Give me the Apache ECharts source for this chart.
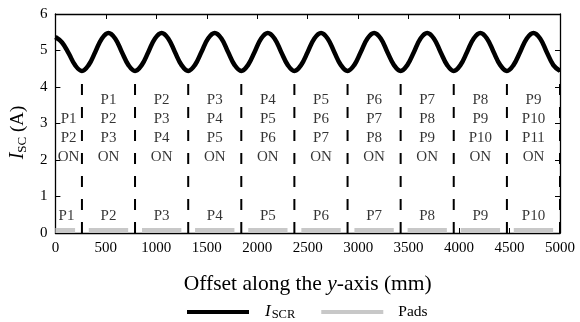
<!DOCTYPE html>
<html><head><meta charset="utf-8">
<script src="https://cdn.jsdelivr.net/npm/echarts@6/dist/echarts.min.js"></script>
<style>html,body{margin:0;padding:0;background:#fff}#c{width:580px;height:322px}</style>
</head><body><div id="c"></div>
<script>
// Offset along the y-axis (mm)
var offsetMm = [0, 66, 132, 197, 263, 329, 395, 461, 526, 592, 658, 724, 789, 855, 921, 987,
  1053, 1118, 1184, 1250, 1316, 1382, 1447, 1513, 1579, 1645, 1711, 1776, 1842, 1908, 1974, 2039,
  2105, 2171, 2237, 2303, 2368, 2434, 2500, 2566, 2632, 2697, 2763, 2829, 2895, 2961, 3026, 3092,
  3158, 3224, 3289, 3355, 3421, 3487, 3553, 3618, 3684, 3750, 3816, 3882, 3947, 4013, 4079, 4145,
  4211, 4276, 4342, 4408, 4474, 4539, 4605, 4671, 4737, 4803, 4868, 4934, 5000];
// I_SCR (A)
var iscr = [5.37, 5.22, 4.92, 4.59, 4.44, 4.60, 4.96, 5.33,
  5.48, 5.33, 4.96, 4.60, 4.44, 4.60, 4.96, 5.33,
  5.48, 5.33, 4.96, 4.60, 4.44, 4.60, 4.96, 5.33,
  5.48, 5.33, 4.96, 4.60, 4.44, 4.60, 4.96, 5.33,
  5.48, 5.33, 4.96, 4.60, 4.44, 4.60, 4.96, 5.33,
  5.48, 5.33, 4.96, 4.60, 4.44, 4.60, 4.96, 5.33,
  5.48, 5.33, 4.96, 4.60, 4.44, 4.60, 4.96, 5.33,
  5.48, 5.33, 4.96, 4.60, 4.44, 4.60, 4.96, 5.33,
  5.48, 5.33, 4.96, 4.60, 4.44, 4.60, 4.96, 5.33,
  5.48, 5.33, 4.96, 4.60, 4.44];
// pad extents (mm)
var padStart = [0, 331, 858, 1384, 1911, 2437, 2963, 3490, 4016, 4542];
var padEnd   = [195, 721, 1248, 1774, 2300, 2827, 3353, 3879, 4406, 4932];
var padNames = ['P1','P2','P3','P4','P5','P6','P7','P8','P9','P10'];
var padLabelX = [110, 526, 1053, 1579, 2105, 2632, 3158, 3684, 4211, 4737];
var padLevel = 0.07;
var padLabelY = 0.47;
// switching boundaries (mm)
var boundaryX = [263, 789, 1316, 1842, 2368, 2895, 3421, 3947, 4474, 5000];
var boundaryTop = 4.44;
// active pad groups
var groupX = [131, 526, 1053, 1579, 2105, 2632, 3158, 3684, 4211, 4737];
var groupText = ['P1\nP2\nON', 'P1\nP2\nP3\nON', 'P2\nP3\nP4\nON', 'P3\nP4\nP5\nON', 'P4\nP5\nP6\nON',
  'P5\nP6\nP7\nON', 'P6\nP7\nP8\nON', 'P7\nP8\nP9\nON', 'P8\nP9\nP10\nON', 'P9\nP10\nP11\nON'];
var groupBottomY = 1.81;
var xTicks = [0, 500, 1000, 1500, 2000, 2500, 3000, 3500, 4000, 4500, 5000];
var yTicks = [0, 1, 2, 3, 4, 5, 6];

var SERIF = '"Liberation Serif","DejaVu Serif",serif';
var chart = echarts.init(document.getElementById('c'), null, {renderer: 'canvas'});
var series = [];
series.push({
  name: 'ISCR', type: 'line', xAxisIndex: 0, yAxisIndex: 0,
  data: offsetMm.map(function (x, i) { return [x, iscr[i]]; }),
  smooth: 0.4, showSymbol: false, symbol: 'none',
  lineStyle: {color: '#000', width: 4.5}, itemStyle: {color: '#000'}, z: 5, silent: true
});
padStart.forEach(function (s, i) {
  series.push({
    name: 'Pads', type: 'line', data: [[s, padLevel], [padEnd[i], padLevel]],
    showSymbol: false, symbol: 'none', lineStyle: {color: '#c8c8c8', width: 5}, itemStyle: {color: '#c8c8c8'},
    z: 3, silent: true
  });
});
boundaryX.forEach(function (x) {
  series.push({
    name: 'boundary', type: 'line', data: [[x, 0], [x, boundaryTop]],
    showSymbol: false, symbol: 'none', lineStyle: {color: '#000', width: 2, type: [11, 12]},
    z: 4, silent: true
  });
});
series.push({
  name: 'groups', type: 'scatter', symbolSize: 0, silent: true,
  data: groupX.map(function (x, i) { return [x, groupBottomY, groupText[i]]; }),
  label: {show: true, position: 'inside', verticalAlign: 'bottom', align: 'center',
    formatter: function (p) { return p.data[2]; },
    fontFamily: SERIF, fontSize: 15, lineHeight: 19, color: '#000'}
});
series.push({
  name: 'padLabels', type: 'scatter', symbolSize: 0, silent: true,
  data: padLabelX.map(function (x, i) { return [x, padLabelY, padNames[i]]; }),
  label: {show: true, position: 'inside', align: 'center', verticalAlign: 'middle',
    formatter: function (p) { return p.data[2]; },
    fontFamily: SERIF, fontSize: 15, color: '#000'}
});

var axisCommon = {
  axisLine: {show: true, onZero: false, lineStyle: {color: '#000', width: 1.3}},
  axisTick: {show: true, inside: true, length: 5, lineStyle: {color: '#000', width: 1}},
  splitLine: {show: false}
};
function plain(v) { return String(v); }
chart.setOption({
  animation: false,
  backgroundColor: '#fff',
  grid: {left: 53, right: 20, top: 14, bottom: 89, containLabel: false},
  xAxis: [
    Object.assign({type: 'value', min: xTicks[0], max: xTicks[xTicks.length - 1], interval: 500, position: 'bottom',
      axisLabel: {color: '#000', fontFamily: SERIF, fontSize: 15, margin: 8, formatter: plain},
      name: '{a|Offset along the }{i|y}{a|-axis (mm)}', nameLocation: 'middle', nameGap: 40,
      nameTextStyle: {rich: {a: {fontFamily: SERIF, fontSize: 21.5, color: '#000'},
        i: {fontFamily: SERIF, fontSize: 21.5, fontStyle: 'italic', color: '#000'}}}}, axisCommon),
    Object.assign({type: 'value', min: xTicks[0], max: xTicks[xTicks.length - 1], interval: 500, position: 'top',
      axisLabel: {show: false}}, axisCommon)
  ],
  yAxis: [
    Object.assign({type: 'value', min: yTicks[0], max: yTicks[yTicks.length - 1], interval: 1, position: 'left',
      axisLabel: {color: '#000', fontFamily: SERIF, fontSize: 15, margin: 8, formatter: plain},
      name: '{i|I}{s|SC}{a| (A)}', nameLocation: 'middle', nameGap: 23, nameRotate: 90,
      nameTextStyle: {padding: [0, 18, 0, 0], rich: {a: {fontFamily: SERIF, fontSize: 19, color: '#000', lineHeight: 22},
        i: {fontFamily: SERIF, fontSize: 20, fontStyle: 'italic', color: '#000', lineHeight: 22},
        s: {fontFamily: SERIF, fontSize: 13, color: '#000', verticalAlign: 'bottom', lineHeight: 13, padding: [7, 0, 0, 0]}}}}, axisCommon),
    Object.assign({type: 'value', min: yTicks[0], max: yTicks[yTicks.length - 1], interval: 1, position: 'right',
      axisLabel: {show: false}}, axisCommon)
  ],
  legend: {
    show: true, top: 297, left: 182, itemWidth: 62, itemHeight: 4, itemGap: 26, icon: 'rect',
    data: [{name: 'ISCR', itemStyle: {color: '#000'}}, {name: 'Pads', itemStyle: {color: '#c8c8c8'}}],
    formatter: function (n) { return n === 'ISCR' ? '{i|I}{s|SCR}' : '{p|Pads}'; },
    textStyle: {color: '#000', fontFamily: SERIF, fontSize: 15,
      rich: {p: {fontFamily: SERIF, fontSize: 15.5, color: '#000', lineHeight: 18, padding: [0, 0, 0, 10]},
        i: {fontFamily: SERIF, fontSize: 17, fontStyle: 'italic', color: '#000', lineHeight: 18, padding: [0, 0, 0, 11]},
        s: {fontFamily: SERIF, fontSize: 12.5, color: '#000', verticalAlign: 'bottom', lineHeight: 12, padding: [6, 0, 0, 1]}}}
  },
  series: series
});
</script></body></html>
